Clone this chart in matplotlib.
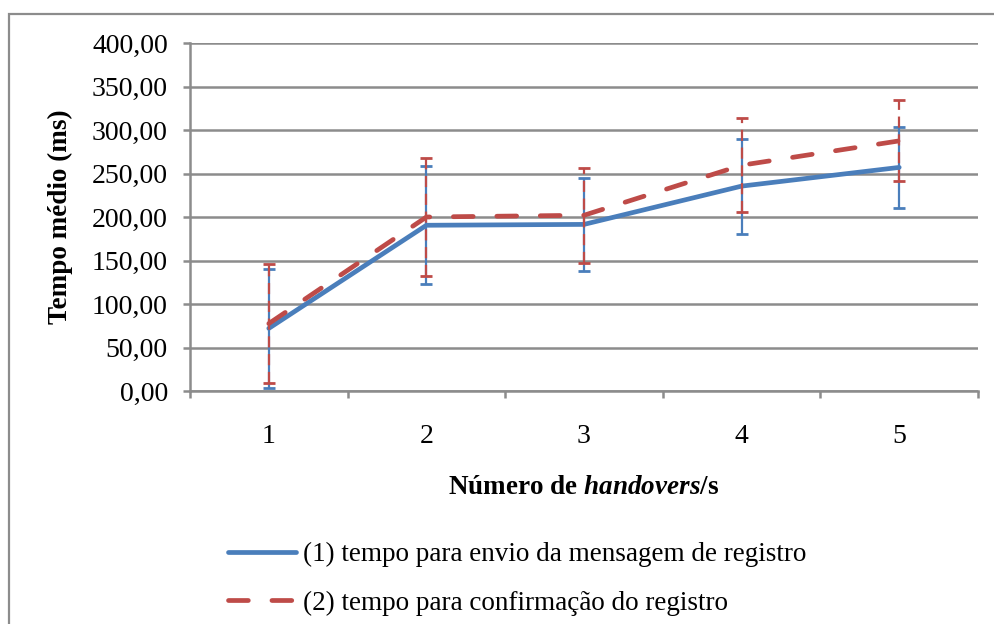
import matplotlib
matplotlib.use("Agg")
import matplotlib.pyplot as plt
from matplotlib.patches import Rectangle
from matplotlib.ticker import FixedLocator, FuncFormatter

plt.rcParams["font.family"] = ["Liberation Serif", "DejaVu Serif"]
plt.rcParams["mathtext.fontset"] = "custom"
plt.rcParams["mathtext.it"] = "Liberation Serif:italic:bold"
plt.rcParams["mathtext.rm"] = "Liberation Serif:bold"
plt.rcParams["mathtext.bf"] = "Liberation Serif:bold"

# Data
handovers = [1, 2, 3, 4, 5]
envio_mean = [72.0, 190.5, 191.5, 235.5, 257.0]
envio_err = [68.0, 68.0, 53.5, 54.5, 46.5]
confirm_mean = [77.5, 200.0, 202.0, 259.5, 287.5]
confirm_err = [68.0, 67.5, 54.5, 54.0, 46.5]
y_ticks = [0, 50, 100, 150, 200, 250, 300, 350, 400]
label_envio = "(1) tempo para envio da mensagem de registro"
label_confirm = "(2) tempo para confirmação do registro"

BLUE = "#4a7ebb"
RED = "#be4b48"
GRID = "#8c8c8c"
FS = 19.5

fig = plt.figure(figsize=(9.95, 6.24), dpi=100)
ax = fig.add_axes([190 / 995, 1 - 391 / 624, 788 / 995, 348 / 624])

# outer chart frame
fig.patches.append(Rectangle((9 / 995, -0.2), 1.2, 1.2 - 14 / 624,
                             transform=fig.transFigure, fill=False,
                             edgecolor=GRID, linewidth=1.6, zorder=0))

x = list(range(len(handovers)))

# series 1: error bars and line
ax.errorbar(x, envio_mean, yerr=envio_err, fmt="none", ecolor=BLUE,
            elinewidth=1.6, capsize=4, capthick=2.0, zorder=3)
line1, = ax.plot(x, envio_mean, color=BLUE, linewidth=3.4,
                 solid_capstyle="round", solid_joinstyle="round", zorder=4,
                 label=label_envio)

# series 2: dashed error bars and line
eb2 = ax.errorbar(x, confirm_mean, yerr=confirm_err, fmt="none", ecolor=RED,
                  elinewidth=1.6, capsize=4, capthick=2.0, zorder=5)
for lc in eb2[2]:
    lc.set_linestyle((0, (5, 3)))
line2, = ax.plot(x, confirm_mean, color=RED, linewidth=3.4,
                 dashes=(4.2, 5.0), dash_capstyle="round", zorder=6,
                 label=label_confirm)

ax.set_xlim(-0.5, len(handovers) - 0.5)
ax.set_ylim(0, 400)

ax.yaxis.set_major_locator(FixedLocator(y_ticks))
ax.yaxis.set_major_formatter(FuncFormatter(lambda v, p: f"{v:.2f}".replace(".", ",")))
ax.set_xticks(x)
ax.set_xticklabels([str(h) for h in handovers])
ax.xaxis.set_minor_locator(FixedLocator([i - 0.5 for i in range(len(handovers) + 1)]))

ax.grid(axis="y", color=GRID, linewidth=1.8, zorder=0)
ax.set_axisbelow(True)
for side in ("top", "right"):
    ax.spines[side].set_visible(False)
for side in ("left", "bottom"):
    ax.spines[side].set_color(GRID)
    ax.spines[side].set_linewidth(1.8)

ax.tick_params(axis="y", which="major", length=5, width=1.8, color=GRID,
               labelsize=20, pad=11)
ax.tick_params(axis="x", which="major", length=0, labelsize=20, pad=24)
ax.tick_params(axis="x", which="minor", length=5, width=1.8, color=GRID)

ax.set_ylabel("Tempo médio (ms)", fontsize=FS, fontweight="bold")
ax.yaxis.set_label_coords(-0.148, 0.5)
ax.set_xlabel("Número de $\\mathit{handovers}$/s", fontsize=FS, fontweight="bold")
ax.xaxis.set_label_coords(0.5, -0.241)

fig.legend(handles=[line1, line2], loc="upper left",
           bbox_to_anchor=(228 / 995, 1 - 542 / 624), frameon=False,
           fontsize=FS, handlelength=2.5, handletextpad=0.28,
           labelspacing=0.86, borderpad=0, borderaxespad=0)

fig.savefig("out.png", dpi=100, facecolor="white")
